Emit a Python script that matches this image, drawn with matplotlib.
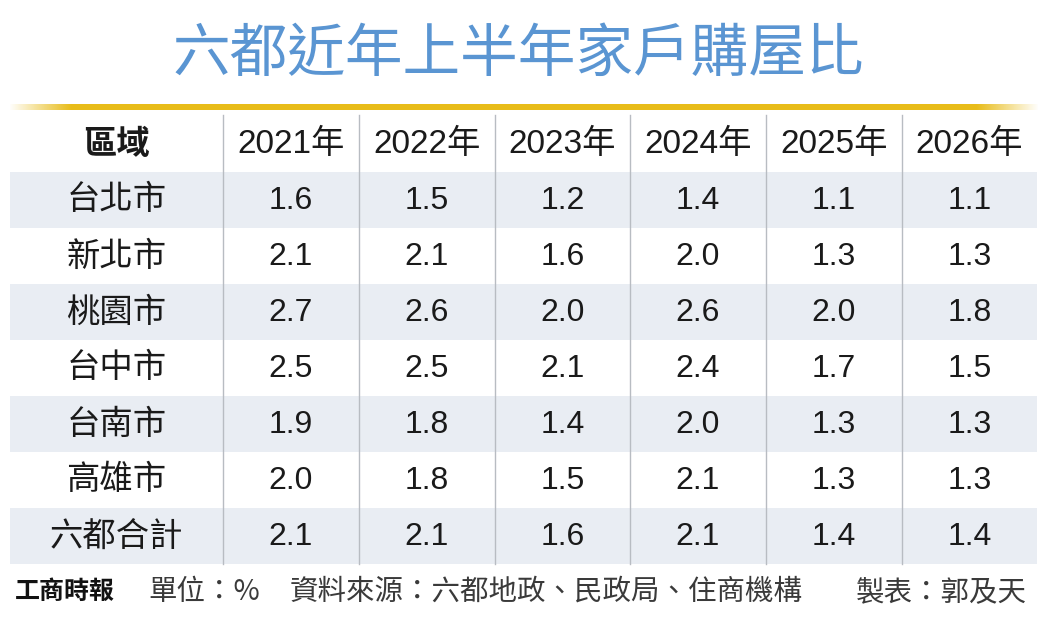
import numpy as np
import matplotlib
matplotlib.use("Agg")
from matplotlib import pyplot as plt
from matplotlib.patches import Rectangle

plt.rcParams["font.family"] = ["Noto Sans CJK TC", "DejaVu Sans"]

TITLE = "六都近年上半年家戶購屋比"
HEADER = ["區域", "2021年", "2022年", "2023年", "2024年", "2025年", "2026年"]
REGIONS = ["台北市", "新北市", "桃園市", "台中市", "台南市", "高雄市", "六都合計"]
Y2021 = [1.6, 2.1, 2.7, 2.5, 1.9, 2.0, 2.1]
Y2022 = [1.5, 2.1, 2.6, 2.5, 1.8, 1.8, 2.1]
Y2023 = [1.2, 1.6, 2.0, 2.1, 1.4, 1.5, 1.6]
Y2024 = [1.4, 2.0, 2.6, 2.4, 2.0, 2.1, 2.1]
Y2025 = [1.1, 1.3, 2.0, 1.7, 1.3, 1.3, 1.4]
Y2026 = [1.1, 1.3, 1.8, 1.5, 1.3, 1.3, 1.4]
FOOTER_LOGO = "工商時報"
FOOTER_UNIT = "單位：%"
FOOTER_SRC = "資料來源：六都地政、民政局、住商機構"
FOOTER_BY = "製表：郭及天"

W, H = 1055, 626
COL_EDGES = [10, 223, 359, 495, 630, 766, 902, 1037]
HEAD_TOP = 115
ROW0 = 172
ROW_H = 56
SHADE = "#e9edf3"
TXT = "#1a1a1a"
NUM_FONT = ["Liberation Sans", "Noto Sans CJK TC"]


def main():
    fig = plt.figure(figsize=(W / 100, H / 100), dpi=100)
    ax = fig.add_axes([0, 0, 1, 1])

    # title
    ax.text(518, 55, TITLE, ha="center", va="center", fontsize=41.5,
            color="#5a95d2")

    # gold rule, faded at both ends
    xs = np.linspace(0, 1, 400)
    alpha = np.clip(np.minimum(xs, 1 - xs) / 0.06, 0, 1)
    grad = np.zeros((1, len(xs), 4))
    grad[..., 0] = 0.91
    grad[..., 1] = 0.74
    grad[..., 2] = 0.10
    grad[..., 3] = alpha
    ax.imshow(grad, extent=(8, 1040, 110, 104), aspect="auto",
              interpolation="bilinear", zorder=2)
    ax.set_xlim(0, W)
    ax.set_ylim(H, 0)
    ax.axis("off")

    values = [Y2021, Y2022, Y2023, Y2024, Y2025, Y2026]
    n_rows = len(REGIONS)
    bottom = ROW0 + n_rows * ROW_H

    # shaded rows
    for i in range(n_rows):
        if i % 2 == 0:
            ax.add_patch(Rectangle((COL_EDGES[0], ROW0 + i * ROW_H),
                                   COL_EDGES[-1] - COL_EDGES[0], ROW_H,
                                   facecolor=SHADE, edgecolor="none", zorder=1))

    # column dividers
    for x in COL_EDGES[1:-1]:
        ax.plot([x, x], [HEAD_TOP, bottom], color="#b8bcc2", lw=1.0, zorder=3)

    centers = [(COL_EDGES[k] + COL_EDGES[k + 1]) / 2 for k in range(len(COL_EDGES) - 1)]

    # header
    hy = (HEAD_TOP + ROW0) / 2 + 1
    ax.text(centers[0], hy, HEADER[0], ha="center", va="center", fontsize=24,
            color=TXT, fontweight="bold")
    for k, lab in enumerate(HEADER[1:]):
        ax.text(centers[k + 1], hy, lab, ha="center", va="center", fontsize=24,
                color=TXT, family=NUM_FONT)

    # body
    for i, reg in enumerate(REGIONS):
        cy = ROW0 + i * ROW_H + ROW_H / 2
        ax.text(centers[0], cy, reg, ha="center", va="center", fontsize=24,
                color=TXT)
        for k, col in enumerate(values):
            ax.text(centers[k + 1], cy + 1, "{:.1f}".format(col[i]), ha="center",
                    va="center", fontsize=23, color=TXT, family=NUM_FONT)

    # footer
    fy = 592
    ax.text(15, fy, FOOTER_LOGO, ha="left", va="center", fontsize=18,
            fontweight="black", color="#111111")
    ax.text(148, fy, FOOTER_UNIT, ha="left", va="center", fontsize=20.5,
            color="#3a3a3a")
    ax.text(290, fy, FOOTER_SRC, ha="left", va="center", fontsize=20.5,
            color="#3a3a3a")
    ax.text(1027, fy, FOOTER_BY, ha="right", va="center", fontsize=20.5,
            color="#3a3a3a")

    fig.savefig("out.png", dpi=100, facecolor="white")


if __name__ == "__main__":
    main()
